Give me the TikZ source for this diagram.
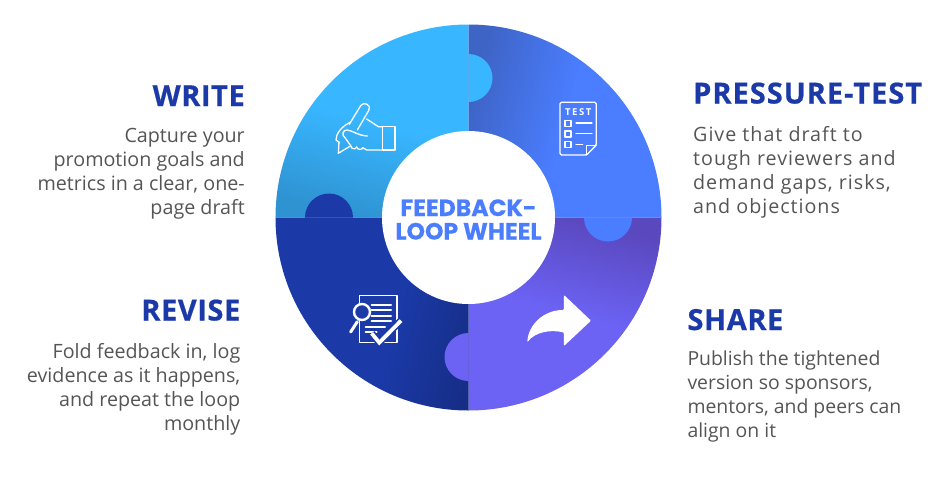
\documentclass[tikz,border=0pt]{standalone}
\usepackage{fontspec}
\setmainfont{Open Sans}
\newfontfamily\centerfont{Poppins}
\usetikzlibrary{positioning}

\definecolor{writeblue}{HTML}{38B6FF}
\definecolor{writedark}{HTML}{2F93D2}
\definecolor{testblue}{HTML}{4A7DFF}
\definecolor{testdark}{HTML}{3E64C6}
\definecolor{sharepurple}{HTML}{6C63F5}
\definecolor{sharedark}{HTML}{5A48BE}
\definecolor{reviseblue}{HTML}{1B3AA8}
\definecolor{revisedark}{HTML}{152A7E}
\definecolor{bodygray}{HTML}{555555}
\pgfdeclarehorizontalshading{revisefade}{100bp}{color(0bp)=(reviseblue); color(56bp)=(reviseblue); color(85bp)=(revisedark); color(100bp)=(revisedark)}

\begin{document}
\begin{tikzpicture}[
    x=1pt, y=1pt,
    headline/.style={inner sep=0pt, font=\fontsize{29}{30}\selectfont\addfontfeatures{LetterSpace=2,FakeBold=0.6}\bfseries, text=reviseblue},
    bodyright/.style={inner sep=0pt, font=\fontsize{19.7}{24}\selectfont, text=bodygray, align=right},
    bodyleft/.style={inner sep=0pt, font=\fontsize{19.7}{24}\selectfont, text=bodygray, align=left},
    iconline/.style={draw=white, line width=1.3pt, line join=round, line cap=round},
    iconbar/.style={draw=white, line width=2.1pt, line cap=round}
]
\useasboundingbox (-468.5,-281.5) rectangle (483.5,217.5);

% Wheel
\shade[top color=writeblue, bottom color=writedark, middle color=writeblue, shading angle=-15]
    (0,0) -- (-193,0) arc (180:90:193) -- cycle;
\shade[left color=testdark, right color=testblue, middle color=testblue, shading angle=75]
    (0,0) -- (0,193) arc (90:0:193) -- cycle;
\shade[top color=sharedark, bottom color=sharepurple, middle color=sharepurple, shading angle=-15]
    (0,0) -- (193,0) arc (0:-90:193) -- cycle;
\shade[shading=revisefade, shading angle=-15]
    (0,0) -- (0,-193) arc (-90:-180:193) -- cycle;

% Tabs
\fill[writeblue] (0,163.5) arc (90:-90:24) -- cycle;
\fill[testblue] (163.5,0) arc (0:-180:24) -- cycle;
\fill[sharepurple] (0,-115.5) arc (90:270:24) -- cycle;
\fill[reviseblue] (-115.5,0) arc (0:180:24) -- cycle;

% Hub
\node (hub) [circle, fill=white, minimum size=173pt, inner sep=0pt] at (0,0) {};
\node (hubtitle) [inner sep=0pt, align=center, text=testblue, font=\centerfont\fontsize{23.5}{23.5}\selectfont\addfontfeatures{FakeBold=0.3}\bfseries] at (0,-2) {FEEDBACK-\\LOOP WHEEL};

% Hand icon
\begin{scope}[shift={(-198.5,202.5)}, x=0.3333pt, y=-0.3333pt]
  \draw[iconline] (338,335) rectangle (375,405);
  \draw[iconline] (272,272) .. controls (280,258) and (306,270) .. (297,285) -- (262,345);
  \draw[iconline] (272,272) -- (238,328);
  \draw[iconline] (207,380) -- (205,415) -- (238,395);
  \draw[iconline] (290,312) -- (325,335) -- (338,335);
  \draw[iconline] (338,405) -- (290,405) -- (278,398);
  \draw[iconline] (278,398) .. controls (278,405) and (262,406) .. (260,396);
  \draw[iconline] (260,396) .. controls (258,404) and (244,404) .. (242,392);
  \draw[iconline] (292,363) .. controls (265,362) and (250,348) .. (232,345)
      .. controls (218,343) and (214,362) .. (225,368) -- (242,392);
  \draw[iconline] (240,322) .. controls (215,335) and (198,355) .. (198,375) -- (207,382);
\end{scope}

% Test sheet icon
\begin{scope}[shift={(-3.5,202.5)}, x=0.3333pt, y=-0.3333pt]
  \draw[iconline, rounded corners=1.5pt] (285,262) -- (394,262) -- (394,390) -- (365,420) -- (285,420) -- cycle;
  \draw[iconline] (365,420) -- (365,392) -- (394,392);
  \node (testlabel) [inner sep=0pt, text=white, font=\fontsize{9.5}{9.5}\selectfont\bfseries] at (340,291) {T\,E\,S\,T};
  \foreach \rowy in {325,357,389} {
    \draw[iconline] (300,\rowy-9) rectangle (318,\rowy+9);
  }
  \draw[iconline] (333,324) -- (381,324);
  \draw[iconline] (333,356) -- (381,356);
  \draw[iconline] (333,388) -- (353,388);
\end{scope}

% Review icon
\begin{scope}[shift={(-198.5,27.5)}, x=0.3333pt, y=-0.3333pt]
  \draw[iconline] (268,316) rectangle (381,457);
  \foreach \rowy in {344,360,377,393} {
    \draw[iconbar] (305,\rowy) -- (363,\rowy);
  }
  \draw[iconbar] (287,410) -- (345,410);
  \draw[iconbar] (287,427) -- (320,427);
  \draw[line width=2.4pt, draw=white, fill=reviseblue] (276,366) circle (24);
  \draw[white, line width=3pt, line cap=round] (262,395) -- (242,426);
  \draw[reviseblue, line width=7pt, line join=round] (305,430) -- (328,458) -- (393,392);
  \draw[white, line width=3.8pt, line join=miter] (305,430) -- (328,458) -- (393,392);
\end{scope}

% Share arrow icon
\begin{scope}[shift={(-28.5,7.5)}, x=0.3333pt, y=-0.3333pt]
  \fill[white, rounded corners=1pt] (453,332) -- (372,255) -- (372,300)
      .. controls (310,300) and (265,345) .. (262,397)
      .. controls (285,365) and (335,358) .. (372,368)
      -- (372,408) -- cycle;
\end{scope}

% Labels
\node (writehead) [headline, anchor=base east] at (-223.5,111.5) {WRITE};
\node (writebody) [bodyright, below=21.5pt of writehead.south east, anchor=north east] {Capture your\\promotion goals and\\metrics in a clear, one-\\page draft};

\node (testhead) [headline, anchor=base west] at (224.5,114) {\addfontfeatures{LetterSpace=3.5,FakeBold=0.6}PRESSURE-TEST};
\node (testbody) [bodyleft, below=22.5pt of testhead.south west, anchor=north west] {\addfontfeatures{LetterSpace=5}Give that draft to\\\addfontfeatures{LetterSpace=5}tough reviewers and\\\addfontfeatures{LetterSpace=5}demand gaps, risks,\\\addfontfeatures{LetterSpace=5}and objections};

\node (revisehead) [headline, anchor=base east] at (-228,-103) {REVISE};
\node (revisebody) [bodyright, below=22pt of revisehead.south east, anchor=north east] {Fold feedback in, log\\evidence as it happens,\\and repeat the loop\\monthly};

\node (sharehead) [headline, anchor=base west] at (218.8,-112.5) {SHARE};
\node (sharebody) [bodyleft, below=20pt of sharehead.south west, anchor=north west, font=\fontsize{19.4}{24}\selectfont] {Publish the tightened\\version so sponsors,\\mentors, and peers can\\align on it};

\end{tikzpicture}
\end{document}
